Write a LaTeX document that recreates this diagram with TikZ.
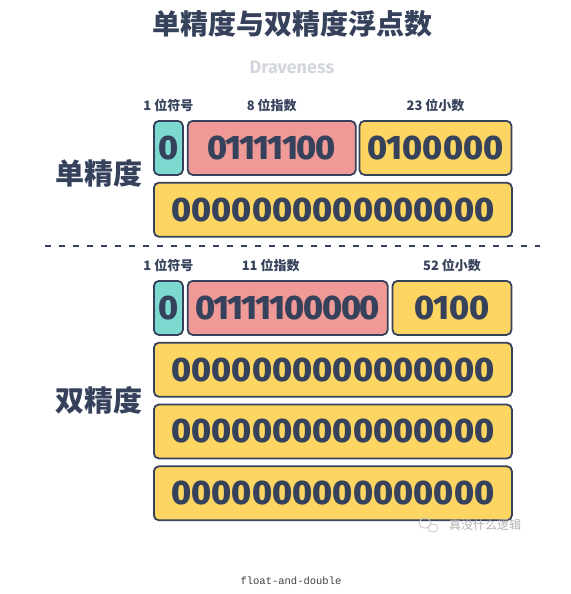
\documentclass[tikz,border=0pt]{standalone}
\usepackage{xcolor}
\usepackage{fontspec}
\usepackage{tikz}
\usetikzlibrary{positioning}
\setmainfont{Fira Sans}
\newfontfamily\digitfont{Fira Sans ExtraBold}[Numbers={Proportional,Lining}]
\newfontfamily\tightdigits{Fira Sans ExtraBold}[Numbers={Proportional,Lining}, LetterSpace=-4]
\newfontfamily\cjk{Noto Sans CJK SC}
\newfontfamily\titlefont{Noto Sans CJK SC Black}
\newfontfamily\codefont{Liberation Mono}
\definecolor{ink}{RGB}{54,65,91}
\definecolor{mist}{RGB}{211,214,222}
\definecolor{signcol}{RGB}{125,217,207}
\definecolor{expcol}{RGB}{239,154,150}
\definecolor{fraccol}{RGB}{253,213,99}

\begin{document}
\begin{tikzpicture}[
  x=1pt, y=-1pt,
  bits/.style={draw=ink, line width=1.8pt, rounded corners=5pt, minimum height=54pt,
               inner sep=0pt, text=ink, font=\digitfont\fontsize{34}{34}\selectfont},
  signbit/.style={bits, fill=signcol, minimum width=29pt},
  expbits/.style={bits, fill=expcol, font=\tightdigits\fontsize{34}{34}\selectfont},
  fracbits/.style={bits, fill=fraccol},
  rowbits/.style={bits, fill=fraccol, minimum width=358pt},
  field/.style={inner sep=0pt, text=ink, font=\cjk\bfseries\fontsize{13}{13}\selectfont},
  kind/.style={inner sep=0pt, text=ink, font=\titlefont\fontsize{29}{29}\selectfont}
]
  \fill[white] (0,0) rectangle (570,594);
  \useasboundingbox (0,0) rectangle (570,594);

  \node[text=ink, font=\titlefont\fontsize{28}{28}\selectfont] (title) at (292,24) {单精度与双精度浮点数};
  \node[text=mist, font=\bfseries\fontsize{18}{18}\selectfont] (author) at (292,67) {Draveness};

  % single
  \node[signbit, anchor=north west] (s-sign) at (153,120) {0};
  \node[expbits, minimum width=168pt, right=3pt of s-sign] (s-exp) {01111100};
  \node[fracbits, minimum width=152pt, right=2pt of s-exp] (s-frac) {0100000};
  \node[rowbits, below right=6pt and 0pt of s-sign.south west] (s-row) {0000000000000000};
  \node[field, above=8pt of s-sign] (s-sign-l) {1 位符号};
  \node[field, above=8pt of s-exp] (s-exp-l) {8 位指数};
  \node[field, above=8pt of s-frac] (s-frac-l) {23 位小数};
  \node[kind] (single) at (99,173) {单精度};

  \draw[ink, line width=1.8pt, dash pattern=on 6pt off 8pt] (45,246) -- (540,246);

  % double
  \node[signbit, anchor=north west] (d-sign) at (153,280) {0};
  \node[expbits, minimum width=200pt, right=3pt of d-sign] (d-exp) {01111100000};
  \node[fracbits, minimum width=119pt, right=3pt of d-exp] (d-frac) {0100};
  \node[rowbits, below right=6pt and 0pt of d-sign.south west] (d-row1) {0000000000000000};
  \node[rowbits, below=6pt of d-row1] (d-row2) {0000000000000000};
  \node[rowbits, below=6pt of d-row2] (d-row3) {0000000000000000};
  \node[field, above=8pt of d-sign] (d-sign-l) {1 位符号};
  \node[field, above=8pt of d-exp, xshift=-17pt] (d-exp-l) {11 位指数};
  \node[field, above=8pt of d-frac] (d-frac-l) {52 位小数};
  \node[kind] (double) at (99,400) {双精度};

  % watermark and caption
  \draw[gray!45, line width=.8pt] (425,523) ellipse (6pt and 5pt) (433,528) ellipse (5pt and 4pt);
  \node[text=gray!60, font=\cjk\fontsize{12}{12}\selectfont] (mark) at (485,525) {真没什么逻辑};
  \node[text=black!75, font=\codefont\fontsize{10.5}{10.5}\selectfont] (caption) at (291,581) {float-and-double};
\end{tikzpicture}
\end{document}
